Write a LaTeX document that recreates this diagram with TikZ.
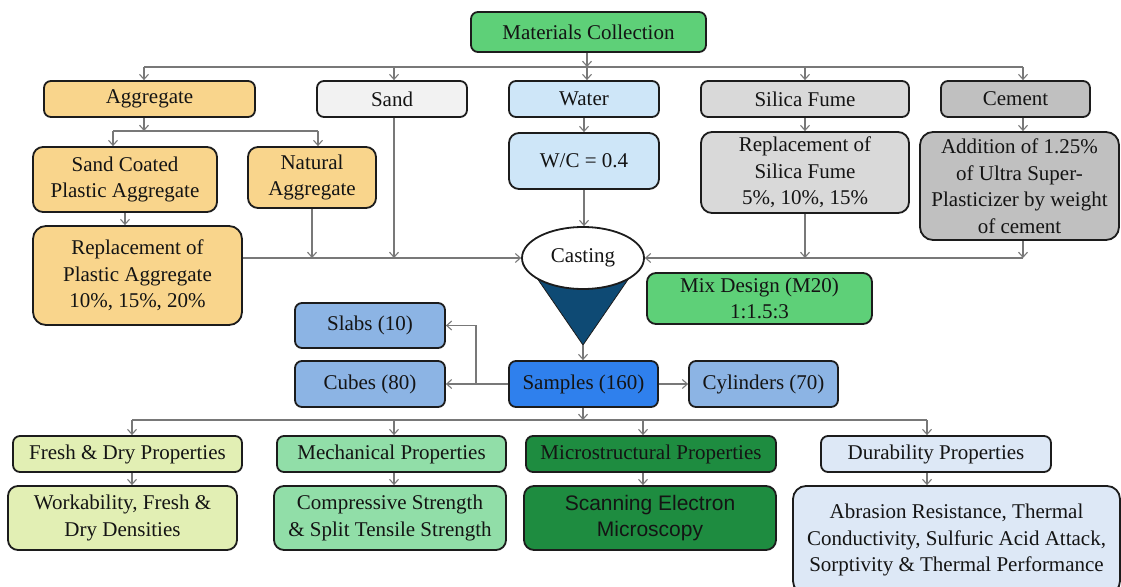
\documentclass[tikz,border=0pt]{standalone}
\usepackage{fontspec}
\setmainfont{Liberation Serif}
\newfontfamily\semfont{Liberation Sans}
\usetikzlibrary{arrows.meta,calc,shapes.geometric}
\definecolor{bordc}{RGB}{28,28,28}
\definecolor{txt}{RGB}{20,20,20}
\definecolor{linec}{RGB}{120,120,120}
\definecolor{cgreen}{RGB}{94,208,120}
\definecolor{corange}{RGB}{249,213,140}
\definecolor{csand}{RGB}{242,242,242}
\definecolor{cwater}{RGB}{206,230,248}
\definecolor{csilica}{RGB}{217,217,217}
\definecolor{ccement}{RGB}{192,192,192}
\definecolor{csamples}{RGB}{47,128,237}
\definecolor{cspec}{RGB}{140,180,228}
\definecolor{cfresh}{RGB}{226,239,180}
\definecolor{cmech}{RGB}{145,222,168}
\definecolor{cmicro}{RGB}{30,140,64}
\definecolor{cdur}{RGB}{221,232,246}
\definecolor{cfunnel}{RGB}{14,74,116}
\begin{document}
\begin{tikzpicture}[x=1pt,y=-1pt,
  box/.style={draw=bordc, line width=1.8pt, rounded corners=7pt, align=center,
    inner sep=2pt, text=txt, font=\fontsize{21}{26.5}\selectfont},
  big/.style={rounded corners=13pt},
  conn/.style={draw=linec, line width=1.1pt, -{Straight Barb[length=5pt,width=9pt]}},
  bus/.style={draw=linec, line width=1.1pt}]
\useasboundingbox (0,0) rectangle (1121,586);

% top
\node[box, fill=cgreen, minimum width=235pt, minimum height=40pt] (mat) at (588.5,32) {Materials Collection};

\node[box, fill=corange, minimum width=211pt, minimum height=36pt] (agg) at (149.5,99) {Aggregate};
\node[box, fill=csand, minimum width=150pt, minimum height=36pt] (sand) at (392,99) {Sand};
\node[box, fill=cwater, minimum width=150pt, minimum height=36pt] (water) at (584,99) {Water};
\node[box, fill=csilica, minimum width=208pt, minimum height=36pt] (silica) at (805,99) {Silica Fume};
\node[box, fill=ccement, minimum width=149pt, minimum height=36pt] (cement) at (1015.5,99) {Cement};

\node[box, fill=corange, rounded corners=10pt, minimum width=184pt, minimum height=65pt] (sc) at (125,179.5) {Sand Coated\\Plastic Aggregate};
\node[box, fill=corange, rounded corners=10pt, minimum width=128pt, minimum height=61pt] (nat) at (312,177.5) {Natural\\Aggregate};
\node[box, big, fill=corange, minimum width=209pt, minimum height=99pt] (repl) at (137.5,275.5) {Replacement of\\Plastic Aggregate\\10\%, 15\%, 20\%};
\node[box, fill=cwater, rounded corners=10pt, minimum width=150pt, minimum height=56pt] (wc) at (584,161) {W/C = 0.4};
\node[box, fill=csilica, rounded corners=11pt, minimum width=208pt, minimum height=81pt] (rsf) at (805,172.5) {Replacement of\\Silica Fume\\5\%, 10\%, 15\%};
\node[box, big, fill=ccement, minimum width=199pt, minimum height=108pt] (add) at (1019.5,186) {Addition of 1.25\%\\of Ultra Super-\\Plasticizer by weight\\of cement};

% funnel
\fill[cfunnel, draw=bordc, line width=0.8pt] (528,265) -- (638,265) -- (583,345) -- cycle;
\coordinate (apex) at (583,345);
\node[draw=bordc, line width=1.8pt, fill=white, ellipse, minimum width=122pt, minimum height=62pt,
  inner sep=0pt, text=txt, font=\fontsize{21}{26.5}\selectfont] (cast) at (583,258) {Casting};

\node[box, fill=cgreen, rounded corners=9pt, minimum width=225pt, minimum height=51pt] (mix) at (759.5,298.5) {Mix Design (M20)\\1:1.5:3};

% samples
\node[box, fill=cspec, minimum width=150pt, minimum height=45pt] (slabs) at (370,325.5) {Slabs (10)};
\node[box, fill=cspec, minimum width=150pt, minimum height=46pt] (cubes) at (370,384) {Cubes (80)};
\node[box, fill=csamples, minimum width=149pt, minimum height=46pt] (samples) at (583.5,384) {Samples (160)};
\node[box, fill=cspec, minimum width=149pt, minimum height=46pt] (cyl) at (763.5,384) {Cylinders (70)};

% properties
\node[box, fill=cfresh, minimum width=229pt, minimum height=36pt] (fresh) at (127.5,454) {Fresh \& Dry Properties};
\node[box, fill=cmech, minimum width=229pt, minimum height=36pt] (mech) at (391.5,454) {Mechanical Properties};
\node[box, fill=cmicro, minimum width=250pt, minimum height=36pt] (micro) at (651,454) {Microstructural Properties};
\node[box, fill=cdur, minimum width=230pt, minimum height=36pt] (dur) at (936,454) {Durability Properties};

\node[box, fill=cfresh, rounded corners=10pt, minimum width=229pt, minimum height=64pt] (work) at (122.5,518) {Workability, Fresh \&\\Dry Densities};
\node[box, fill=cmech, rounded corners=10pt, minimum width=232pt, minimum height=64pt] (comp) at (390,518) {Compressive Strength\\\& Split Tensile Strength};
\node[box, fill=cmicro, rounded corners=10pt, minimum width=252pt, minimum height=64pt,
  font=\semfont\fontsize{21}{26.5}\selectfont] (sem) at (650,518) {Scanning Electron\\Microscopy};
\node[box, big, fill=cdur, minimum width=327pt, minimum height=108pt] (abr) at (956.5,540) {Abrasion Resistance, Thermal\\Conductivity, Sulfuric Acid Attack,\\Sorptivity \& Thermal Performance};

% connectors: top bus
\coordinate (tb) at (587,67);
\coordinate (tbA) at (144,67);
\coordinate (tbS) at (394,67);
\coordinate (tbW) at (587,67);
\coordinate (tbF) at (805,67);
\coordinate (tbC) at (1023,67);
\draw[conn] (tb |- mat.south) -- (tb);
\draw[bus] (tbA) -- (tbC);
\draw[conn] (tbA) -- (tbA |- agg.north);
\draw[conn] (tbS) -- (tbS |- sand.north);
\draw[conn] (tbW) -- (tbW |- water.north);
\draw[conn] (tbF) -- (tbF |- silica.north);
\draw[conn] (tbC) -- (tbC |- cement.north);

% aggregate branch
\coordinate (ab) at (144,131);
\coordinate (abL) at (113,131);
\coordinate (abR) at (318,131);
\draw[conn] (ab |- agg.south) -- (ab);
\draw[bus] (abL) -- (abR);
\draw[conn] (abL) -- (abL |- sc.north);
\draw[conn] (abR) -- (abR |- nat.north);
\draw[conn] (sc.south) -- (sc.south |- repl.north);

% to casting (left)
\draw[conn] (repl.east |- cast) -- (cast.west);
\draw[conn] (nat.south) -- (nat.south |- cast);
\draw[conn] (tbS |- sand.south) -- (tbS |- cast);

% water
\draw[conn] (water.south) -- (water.south |- wc.north);
\draw[conn] (wc.south) -- (wc.south |- cast.north);

% right side
\draw[conn] (silica.south) -- (silica.south |- rsf.north);
\draw[conn] (tbC |- cement.south) -- (tbC |- add.north);
\draw[conn] (rsf.south) -- (rsf.south |- cast);
\draw[conn] (tbC |- add.south) -- (tbC |- cast);
\draw[bus] (tbC |- cast) -- (rsf.south |- cast);
\draw[conn] (rsf.south |- cast) -- (cast.east);

% samples
\draw[conn] (apex) -- (apex |- samples.north);
\draw[conn] (samples.east) -- (cyl.west);
\draw[conn] (samples.west) -- (cubes.east);
\coordinate (sj) at (476,384);
\draw[conn] (sj) |- (slabs.east);

% bottom bus
\coordinate (bb) at (583,420);
\coordinate (bF) at (132,420);
\coordinate (bM) at (394,420);
\coordinate (bS) at (643,420);
\coordinate (bD) at (927,420);
\draw[conn] (bb |- samples.south) -- (bb);
\draw[bus] (bF) -- (bD);
\draw[conn] (bF) -- (bF |- fresh.north);
\draw[conn] (bM) -- (bM |- mech.north);
\draw[conn] (bS) -- (bS |- micro.north);
\draw[conn] (bD) -- (bD |- dur.north);
\draw[conn] (bF |- fresh.south) -- (bF |- work.north);
\draw[conn] (bM |- mech.south) -- (bM |- comp.north);
\draw[conn] (bS |- micro.south) -- (bS |- sem.north);
\draw[conn] (bD |- dur.south) -- (bD |- abr.north);
\end{tikzpicture}
\end{document}
